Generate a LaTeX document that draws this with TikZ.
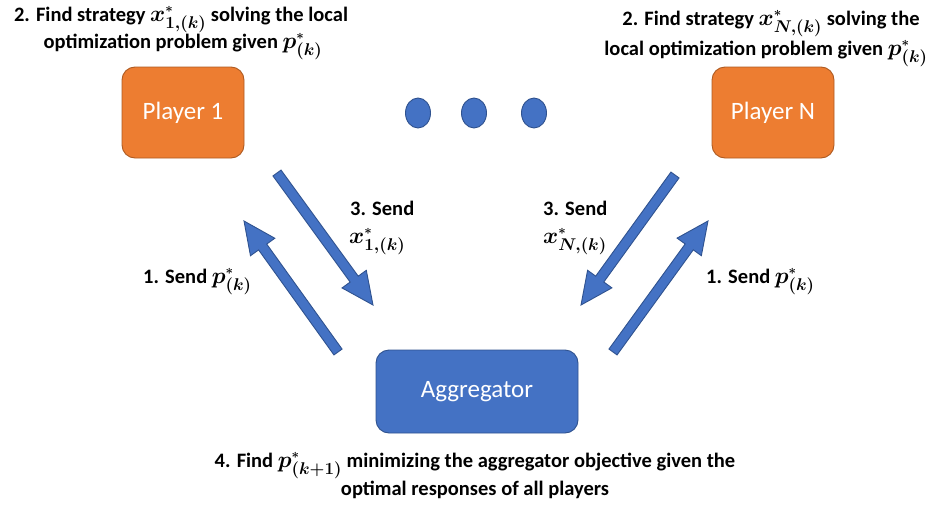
\RequirePackage{fix-cm}
\documentclass[tikz,border=0pt]{standalone}
\usepackage{fontspec}
\setmainfont{Carlito}
\usetikzlibrary{calc,shapes.geometric}
\DeclareMathSizes{23}{23}{17}{13}
\definecolor{orfill}{HTML}{ED7D31}
\definecolor{ordraw}{HTML}{AE5A21}
\definecolor{blfill}{HTML}{4472C4}
\definecolor{bldraw}{HTML}{2F528F}
\newcommand\mm[1]{{\fontsize{23}{27}\selectfont$#1$}}
\newcommand\st{{\scriptscriptstyle *}}
\tikzset{
 player/.style={draw=ordraw, fill=orfill, line width=0.9pt, rounded corners=13pt, minimum width=122pt, minimum height=91pt, text=white, font=\fontsize{25}{29}\selectfont, inner sep=0pt},
 aggbox/.style={draw=bldraw, fill=blfill, line width=0.9pt, rounded corners=13pt, minimum width=202pt, minimum height=83pt, text=white, font=\fontsize{25}{29}\selectfont, inner sep=0pt},
 bdot/.style={ellipse, draw=bldraw, fill=blfill, line width=0.9pt, minimum width=25pt, minimum height=30pt, inner sep=0pt},
 lbl/.style={font=\fontsize{20.5}{24}\selectfont\bfseries\mathversion{bold}, inner sep=0pt, anchor=base},
 lbll/.style={lbl, anchor=base west},
 barrow/.style={draw=bldraw, fill=blfill, line width=0.9pt, line join=miter},
}
\newcommand\blockarr[3]{%
 \coordinate (#1h) at ($(#3)!32pt!(#2)$);
 \draw[barrow] ($(#2)!5pt!90:(#3)$) -- ($(#1h)!5pt!90:(#3)$) -- ($(#1h)!15pt!90:(#3)$) -- (#3) -- ($(#1h)!15pt!-90:(#3)$) -- ($(#1h)!5pt!-90:(#3)$) -- ($(#2)!5pt!-90:(#3)$) -- cycle;}
\begin{document}
\begin{tikzpicture}[x=1pt,y=-1pt]
\useasboundingbox (0,0) rectangle (945,506);
% boxes
\node[player] (p1) at (183,112.5) {Player 1};
\node[player] (pn) at (773,112.5) {Player N};
\node[aggbox] (agg) at (477,391.5) {Aggregator};
\node[bdot] (d1) at (418,113) {};
\node[bdot] (d2) at (474,113) {};
\node[bdot] (d3) at (534,113) {};
% arrow end points
\coordinate (lda) at (277,173);
\coordinate (ldb) at (373,305);
\coordinate (lua) at (338,352);
\coordinate (lub) at (244,221);
\coordinate (rda) at (675,175);
\coordinate (rdb) at (581,305);
\coordinate (rua) at (613,352);
\coordinate (rub) at (708,221);
\blockarr{ld}{lda}{ldb}
\blockarr{lu}{lua}{lub}
\blockarr{rd}{rda}{rdb}
\blockarr{ru}{rua}{rub}
% labels
\node[lbl] (t2l1) at (181,21) {2. Find strategy \mm{x^{\st}_{1,(k)}} solving the local};
\node[lbl] (t2l2) at (183,48) {optimization problem given \mm{p^{\st}_{(k)}}};
\node[lbl] (t2r1) at (771,25) {2. Find strategy \mm{x^{\st}_{N,(k)}} solving the};
\node[lbl] (t2r2) at (766,55) {local optimization problem given \mm{p^{\st}_{(k)}}};
\node[lbll] (t3l1) at (350,215) {3. Send};
\node[lbll] (t3l2) at (349,243) {\mm{x^{\st}_{1,(k)}}};
\node[lbll] (t3r1) at (543,215) {3. Send};
\node[lbll] (t3r2) at (543,243) {\mm{x^{\st}_{N,(k)}}};
\node[lbll] (t1l) at (143,283) {1. Send \mm{p^{\st}_{(k)}}};
\node[lbll] (t1r) at (706,283) {1. Send \mm{p^{\st}_{(k)}}};
\node[lbl] (t4a) at (475,467) {4. Find \mm{p^{\st}_{(k+1)}} minimizing the aggregator objective given the};
\node[lbl] (t4b) at (475,495) {optimal responses of all players};
\end{tikzpicture}
\end{document}
